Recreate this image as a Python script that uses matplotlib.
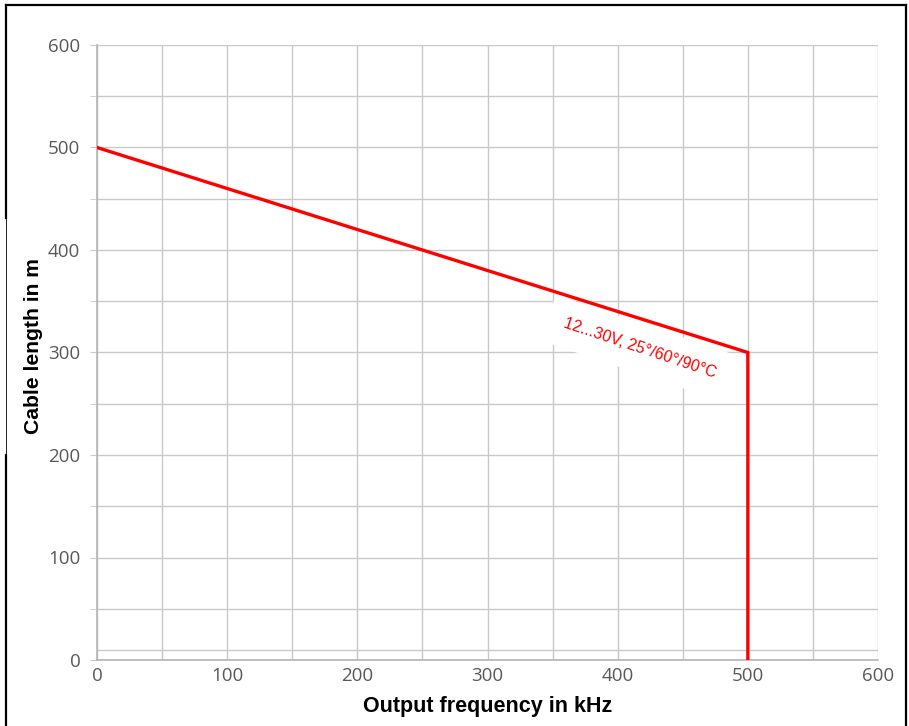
import matplotlib
matplotlib.use("Agg")
import matplotlib.pyplot as plt
from matplotlib.lines import Line2D
import numpy as np

# Kennlinie: Kabellaenge ueber Ausgangsfrequenz
freq_khz = [0, 500, 500]
cable_m = [500, 300, 0]
curve_label = "12...30V, 25°/60°/90°C"

x_ticks = [0, 100, 200, 300, 400, 500, 600]
y_ticks = [0, 100, 200, 300, 400, 500, 600]

fig = plt.figure(figsize=(9.09, 7.26), dpi=100)
ax = fig.add_axes([97 / 909, 1 - 660 / 726, 781 / 909, 615 / 726])

grid_col = "#c9c9c9"
tick_col = "#595959"

# Gitter alle 50
ax.set_xlim(0, 600)
ax.set_ylim(0, 600)
ax.set_xticks(x_ticks)
ax.set_yticks(y_ticks)
ax.set_xticks(np.arange(0, 601, 50), minor=True)
ax.set_yticks(np.arange(0, 601, 50), minor=True)
ax.grid(True, which="both", color=grid_col, lw=1.0)
ax.axhline(10, color=grid_col, lw=1.0, zorder=1)  # Hilfslinie knapp ueber 0 wie im Original
ax.set_axisbelow(True)

for s in ["top", "right"]:
    ax.spines[s].set_visible(False)
for s in ["left", "bottom"]:
    ax.spines[s].set_color("#b5b5b5")
    ax.spines[s].set_linewidth(1.2)

ax.tick_params(axis="y", which="both", direction="out", length=5, color=grid_col, pad=7)
ax.tick_params(axis="x", which="both", length=0, pad=5)
ax.tick_params(axis="both", labelsize=13.5, labelcolor=tick_col)
for lab in ax.get_xticklabels() + ax.get_yticklabels():
    lab.set_family("Open Sans")

ax.plot(freq_khz, cable_m, color="#ff0000", lw=2.4, solid_joinstyle="miter", zorder=3)

ax.text(417, 304, curve_label, color="#ff0000", fontsize=11.5, family="Liberation Sans",
        rotation=-18.5, rotation_mode="anchor", ha="center", va="center",
        bbox=dict(facecolor="white", edgecolor="none", pad=12), zorder=2)

ax.set_xlabel("Output frequency in kHz", fontsize=15.5, fontweight="bold",
              family="Liberation Sans", labelpad=8)
ax.set_ylabel("Cable length in m", fontsize=15.2, fontweight="bold",
              family="Liberation Sans", labelpad=4)
ax.yaxis.label.set_y(0.51)

# schwarzer Rahmen um das Bild (unten offen)
fx = lambda px: px / 909
fy = lambda py: 1 - py / 726
fig.add_artist(Line2D([fx(6), fx(906)], [fy(5), fy(5)], color="black", lw=1.6))
fig.add_artist(Line2D([fx(906), fx(906)], [fy(5), fy(730)], color="black", lw=1.6))
fig.add_artist(Line2D([fx(6), fx(6)], [fy(5), fy(218)], color="black", lw=1.6))
fig.add_artist(Line2D([fx(6), fx(6)], [fy(218), fy(455)], color="black", lw=0.6))
fig.add_artist(Line2D([fx(6), fx(6)], [fy(455), fy(730)], color="black", lw=1.6))

fig.savefig("out.png", dpi=100)
